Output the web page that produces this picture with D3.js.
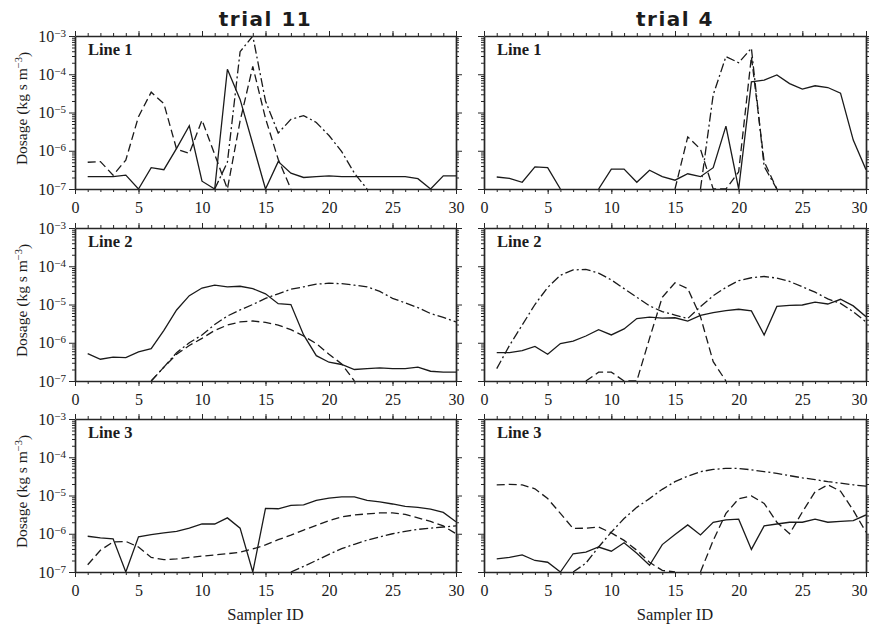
<!DOCTYPE html>
<html>
<head>
<meta charset="utf-8">
<script src="https://cdn.jsdelivr.net/npm/d3@7"></script>
<style>
    body { margin: 0; background: #fff; }
    svg text { font-family: "Liberation Serif", "Times New Roman", serif; fill: #1c1c1c; }
    .axis path, .axis line { stroke: #262626; }
    .axis .domain { stroke-width: 1.7px; }
    .trial-title { font-family: "DejaVu Sans", sans-serif; font-weight: bold; letter-spacing: 1.5px; }
</style>
</head>
<body>
<div id="chart"></div>
<script>
// Sampler ids along the x axis
const samplers = d3.range(1, 31);
const xTicks = [0, 5, 10, 15, 20, 25, 30];
const yDecades = [1e-7, 1e-6, 1e-5, 1e-4, 1e-3];
const trialTitles = ["trial 11", "trial 4"];
const lineNames = ["Line 1", "Line 2", "Line 3"];
const N = null;

// trial 11, line 1
const t11L1Solid = [2.1e-7, 2.1e-7, 2.1e-7, 2.3e-7, 1e-7, 3.6e-7, 3.2e-7, 1.15e-6, 4.5e-6, 1.6e-7, 1e-7, 1.35e-4, 2.2e-5, 1.5e-6, 1e-7, 5.2e-7, 2.6e-7, 2e-7, 2.1e-7, 2.2e-7, 2.1e-7, 2.1e-7, 2.1e-7, 2.1e-7, 2.1e-7, 2.1e-7, 1.86e-7, 1e-7, 2.2e-7, 2.2e-7];
const t11L1Dashed = [5e-7, 5.2e-7, 2.3e-7, 5.7e-7, 7.8e-6, 3.4e-5, 1.7e-5, 1.1e-6, 8.5e-7, 6.3e-6, 8e-7, 1e-7, 6e-6, 1.6e-4, 7e-6, 6e-7, 1e-7, N, N, N, N, N, N, N, N, N, N, N, N, N];
const t11L1DashDot = [N, N, N, N, N, N, N, N, N, N, 1e-7, 5e-7, 3.9e-4, 1e-3, 2e-5, 2.9e-6, 6.6e-6, 8.3e-6, 5.5e-6, 2.5e-6, 9.5e-7, 2.6e-7, 1e-7, N, N, N, N, N, N, N];

// trial 4, line 1
const t4L1Solid = [2.06e-7, 1.9e-7, 1.5e-7, 3.8e-7, 3.6e-7, 1e-7, N, N, 1e-7, 3.3e-7, 3.3e-7, 1.5e-7, 3.1e-7, 2.1e-7, 1.7e-7, 2.5e-7, 2.1e-7, 3.6e-7, 4.4e-6, 1e-7, 6.3e-5, 7e-5, 9.6e-5, 5.7e-5, 4.1e-5, 5e-5, 4.5e-5, 3.2e-5, 1.9e-6, 3.2e-7];
const t4L1Dashed = [N, N, N, N, N, N, N, N, N, N, N, N, N, N, 1e-7, 2.3e-6, 1.1e-6, 1e-7, 1e-7, 2.8e-7, 2.9e-4, 5.2e-7, 1e-7, N, N, N, N, N, N, N];
const t4L1DashDot = [N, N, N, N, N, N, N, N, N, N, N, N, N, N, N, N, 1e-7, 2.9e-5, 2.9e-4, 2e-4, 4.8e-4, 3.9e-7, 1e-7, N, N, N, N, N, N, N];

// trial 11, line 2
const t11L2Solid = [5.2e-7, 3.7e-7, 4.2e-7, 4.1e-7, 5.8e-7, 7e-7, 2.1e-6, 7.2e-6, 1.7e-5, 2.7e-5, 3.2e-5, 2.9e-5, 3e-5, 2.6e-5, 1.9e-5, 1.05e-5, 1e-5, 1.6e-6, 4.6e-7, 3.1e-7, 2.7e-7, 2e-7, 2.1e-7, 2.2e-7, 2.1e-7, 2.1e-7, 2.3e-7, 1.8e-7, 1.7e-7, 1.7e-7];
const t11L2Dashed = [N, N, N, N, N, 1e-7, 2.3e-7, 5e-7, 8.5e-7, 1.3e-6, 2.1e-6, 2.9e-6, 3.5e-6, 3.7e-6, 3.4e-6, 2.9e-6, 2.2e-6, 1.5e-6, 9.5e-7, 5e-7, 2.8e-7, 1e-7, N, N, N, N, N, N, N, N];
const t11L2DashDot = [N, N, N, N, N, 1e-7, 2.3e-7, 5.5e-7, 1e-6, 1.6e-6, 3e-6, 5e-6, 7.2e-6, 1e-5, 1.45e-5, 1.9e-5, 2.5e-5, 2.9e-5, 3.4e-5, 3.6e-5, 3.5e-5, 3.2e-5, 2.9e-5, 2.2e-5, 1.45e-5, 1.1e-5, 8.3e-6, 5.8e-6, 4.6e-6, 3.5e-6];

// trial 4, line 2
const t4L2Solid = [5.5e-7, 5.5e-7, 6.2e-7, 8e-7, 5e-7, 9.5e-7, 1.1e-6, 1.5e-6, 2.2e-6, 1.6e-6, 2.3e-6, 4.3e-6, 4.7e-6, 4.4e-6, 4.5e-6, 3.7e-6, 5.2e-6, 6.1e-6, 6.9e-6, 7.5e-6, 6.8e-6, 1.6e-6, 8.9e-6, 9.5e-6, 9.7e-6, 1.15e-5, 1.03e-5, 1.37e-5, 9.2e-6, 4.8e-6];
const t4L2Dashed = [N, N, N, N, N, N, N, 1e-7, 1.7e-7, 1.7e-7, 1e-7, 1e-7, 1.3e-6, 1.55e-5, 3.7e-5, 2.6e-5, 4.8e-6, 3.2e-7, 1e-7, N, N, N, N, N, N, N, N, N, N, N];
const t4L2DashDot = [2.1e-7, 8.5e-7, 2.9e-6, 1e-5, 2.8e-5, 5.8e-5, 8e-5, 8.3e-5, 6.6e-5, 4.4e-5, 2.6e-5, 1.55e-5, 9.2e-6, 6.5e-6, 5.3e-6, 4.3e-6, 8.8e-6, 1.7e-5, 2.8e-5, 4.2e-5, 5e-5, 5.4e-5, 4.9e-5, 4e-5, 2.9e-5, 2.1e-5, 1.4e-5, 1.07e-5, 6.5e-6, 3.5e-6];

// trial 11, line 3
const t11L3Solid = [8.6e-7, 7.8e-7, 7.4e-7, 1e-7, 8.3e-7, 9.5e-7, 1.05e-6, 1.15e-6, 1.4e-6, 1.8e-6, 1.8e-6, 2.6e-6, 1.4e-6, 1e-7, 4.6e-6, 4.5e-6, 5.5e-6, 5.7e-6, 7.5e-6, 8.5e-6, 9.2e-6, 9.2e-6, 7.5e-6, 6.8e-6, 6e-6, 5.2e-6, 4.9e-6, 4.4e-6, 3.6e-6, 2.05e-6];
const t11L3Dashed = [1.55e-7, 3.7e-7, 6.1e-7, 6.3e-7, 4.5e-7, 2.4e-7, 2.1e-7, 2.2e-7, 2.4e-7, 2.6e-7, 2.8e-7, 3e-7, 3.3e-7, 4e-7, 5.1e-7, 7e-7, 9.2e-7, 1.25e-6, 1.65e-6, 2.2e-6, 2.75e-6, 3.1e-6, 3.3e-6, 3.5e-6, 3.5e-6, 3.2e-6, 2.6e-6, 2.1e-6, 1.6e-6, 1e-6];
const t11L3DashDot = [N, N, N, N, N, N, N, N, N, N, N, N, N, N, N, N, 1e-7, 1.4e-7, 2e-7, 2.9e-7, 4.1e-7, 5.3e-7, 6.8e-7, 8.3e-7, 1e-6, 1.15e-6, 1.3e-6, 1.4e-6, 1.5e-6, 1.6e-6];

// trial 4, line 3
const t4L3Solid = [2.2e-7, 2.4e-7, 2.8e-7, 2e-7, 1.8e-7, 1e-7, 3e-7, 3.3e-7, 4.5e-7, 3.5e-7, 5.8e-7, 3.1e-7, 1.5e-7, 5.2e-7, 9.5e-7, 1.7e-6, 9.3e-7, 2e-6, 2.3e-6, 2.4e-6, 3.9e-7, 1.6e-6, 1.8e-6, 2e-6, 2e-6, 2.4e-6, 2e-6, 2.1e-6, 2.2e-6, 3.1e-6];
const t4L3Dashed = [1.9e-5, 1.95e-5, 1.9e-5, 1.5e-5, 8.3e-6, 3.4e-6, 1.37e-6, 1.4e-6, 1.5e-6, 1.05e-6, 6.7e-7, 3.7e-7, 1.8e-7, 1.1e-7, 1e-7, N, 1e-7, 6.7e-7, 3.4e-6, 8.2e-6, 9.8e-6, 6.2e-6, 2e-6, 1e-6, 3.7e-6, 1.25e-5, 1.9e-5, 1.3e-5, 4.1e-6, 1.1e-6];
const t4L3DashDot = [N, N, N, N, N, N, 1e-7, 1.7e-7, 4.5e-7, 1.1e-6, 2.5e-6, 4.9e-6, 8.3e-6, 1.45e-5, 2.3e-5, 3.2e-5, 4.2e-5, 4.8e-5, 5.1e-5, 5.1e-5, 4.7e-5, 4.2e-5, 3.8e-5, 3.3e-5, 2.9e-5, 2.6e-5, 2.3e-5, 2.1e-5, 1.9e-5, 1.75e-5];

// Layout of the six panels
const colLeft = [75, 484];
const colWidth = [381, 382];
const rowTop = [36, 228, 419];
const panelHeight = 153;
const serif = "'Liberation Serif', 'Times New Roman', serif";

// dash style for each series
const seriesStyles = [
    { key: "solid", dash: null },
    { key: "dashed", dash: "8,4" },
    { key: "dashdot", dash: "9,3,2,3" }
];

const panelSpecs = [
    { row: 0, col: 0, solid: t11L1Solid, dashed: t11L1Dashed, dashdot: t11L1DashDot },
    { row: 0, col: 1, solid: t4L1Solid, dashed: t4L1Dashed, dashdot: t4L1DashDot },
    { row: 1, col: 0, solid: t11L2Solid, dashed: t11L2Dashed, dashdot: t11L2DashDot },
    { row: 1, col: 1, solid: t4L2Solid, dashed: t4L2Dashed, dashdot: t4L2DashDot },
    { row: 2, col: 0, solid: t11L3Solid, dashed: t11L3Dashed, dashdot: t11L3DashDot },
    { row: 2, col: 1, solid: t4L3Solid, dashed: t4L3Dashed, dashdot: t4L3DashDot }
];

class DosagePanel {

    constructor(svg, spec) {
        this.svg = svg;
        this.spec = spec;
        this.left = colLeft[spec.col];
        this.top = rowTop[spec.row];
        this.width = colWidth[spec.col];
        this.height = panelHeight;
        this.initVis();
    }

    initVis() {
        let vis = this;

        vis.g = vis.svg.append("g")
            .attr("transform", "translate(" + vis.left + "," + vis.top + ")");

        vis.x = d3.scaleLinear().domain([0, 30]).range([0, vis.width]);
        vis.y = d3.scaleLog().domain([1e-7, 1e-3]).range([vis.height, 0]);

        // clip lines to the frame
        vis.clipId = "clip-" + vis.spec.row + "-" + vis.spec.col;
        vis.g.append("clipPath").attr("id", vis.clipId)
            .append("rect")
            .attr("width", vis.width)
            .attr("height", vis.height);

        vis.drawLines();
        vis.drawAxes();

        // panel label
        vis.g.append("text")
            .attr("x", 13)
            .attr("y", 19)
            .style("font-family", serif)
            .style("font-size", "16.5px")
            .style("font-weight", "bold")
            .text(lineNames[vis.spec.row]);
    }

    drawLines() {
        let vis = this;

        let line = d3.line()
            .defined(d => d.v !== null)
            .x(d => vis.x(d.s))
            .y(d => vis.y(d.v));

        let layer = vis.g.append("g").attr("clip-path", "url(#" + vis.clipId + ")");

        seriesStyles.forEach(st => {
            let pts = samplers.map((s, i) => ({ s: s, v: vis.spec[st.key][i] }));
            layer.append("path")
                .datum(pts)
                .attr("fill", "none")
                .attr("stroke", "#1a1a1a")
                .attr("stroke-width", 1.3)
                .attr("stroke-dasharray", st.dash)
                .attr("d", line);
        });
    }

    drawAxes() {
        let vis = this;
        let minorY = yDecades.slice(0, 4).flatMap(d => d3.range(2, 10).map(k => k * d));

        // bottom: minor then major with labels
        vis.g.append("g").attr("class", "axis")
            .attr("transform", "translate(0," + vis.height + ")")
            .call(d3.axisBottom(vis.x).tickValues(samplers).tickSize(3).tickSizeOuter(0).tickFormat(""));
        let bx = vis.g.append("g").attr("class", "axis")
            .attr("transform", "translate(0," + vis.height + ")")
            .call(d3.axisBottom(vis.x).tickValues(xTicks).tickSize(5).tickSizeOuter(0).tickPadding(8));
        bx.attr("font-family", null).attr("font-size", null);
        bx.selectAll("text")
            .style("font-size", "16px")
            .style("font-family", serif)
            .attr("fill", "#1c1c1c");
        bx.select(".domain").remove();

        // the last label of the right column sits at the page edge; keep it inside
        if (vis.spec.col === 1) {
            bx.selectAll("text").filter(d => d === 30).attr("text-anchor", "end").attr("x", 1);
        }

        // top
        vis.g.append("g").attr("class", "axis")
            .call(d3.axisTop(vis.x).tickValues(samplers).tickSize(3).tickSizeOuter(0).tickFormat(""));
        let tx = vis.g.append("g").attr("class", "axis")
            .call(d3.axisTop(vis.x).tickValues(xTicks).tickSize(5).tickSizeOuter(0).tickFormat(""));
        tx.select(".domain").remove();

        // left
        vis.g.append("g").attr("class", "axis")
            .call(d3.axisLeft(vis.y).tickValues(minorY).tickSize(3).tickSizeOuter(0).tickFormat(""));
        let ly = vis.g.append("g").attr("class", "axis")
            .call(d3.axisLeft(vis.y).tickValues(yDecades).tickSize(6).tickSizeOuter(0).tickFormat(""));
        ly.select(".domain").remove();

        // right
        vis.g.append("g").attr("class", "axis")
            .attr("transform", "translate(" + vis.width + ",0)")
            .call(d3.axisRight(vis.y).tickValues(minorY).tickSize(3).tickSizeOuter(0).tickFormat(""));
        let ry = vis.g.append("g").attr("class", "axis")
            .attr("transform", "translate(" + vis.width + ",0)")
            .call(d3.axisRight(vis.y).tickValues(yDecades).tickSize(6).tickSizeOuter(0).tickFormat(""));
        ry.select(".domain").remove();

        // power-of-ten labels only on the left column
        if (vis.spec.col === 0) {
            vis.g.selectAll(".ytick-label")
                .data(yDecades)
                .join("text")
                .attr("class", "ytick-label")
                .attr("x", -9)
                .attr("y", d => vis.y(d))
                .attr("dy", "0.35em")
                .attr("text-anchor", "end")
                .style("font-family", serif)
                .style("font-size", "16px")
                .each(function (d) {
                    let t = d3.select(this);
                    t.append("tspan").text("10");
                    t.append("tspan")
                        .attr("dy", "-0.45em")
                        .style("font-size", "11px")
                        .text("\u2212" + Math.round(-Math.log10(d)));
                });

            let yl = vis.svg.append("text")
                .attr("transform", "translate(27," + (vis.top + vis.height / 2 - 4) + ") rotate(-90)")
                .attr("text-anchor", "middle")
                .style("font-family", serif)
                .style("font-size", "15.5px");
            yl.append("tspan").text("Dosage (kg s m");
            yl.append("tspan").attr("dy", "-0.45em").style("font-size", "10.5px").text("\u22123");
            yl.append("tspan").attr("dy", "0.45em").text(")");
        }
    }
}

const svg = d3.select("#chart").append("svg")
    .attr("width", 869)
    .attr("height", 627);

panelSpecs.forEach(spec => new DosagePanel(svg, spec));

// column titles
trialTitles.forEach((t, c) => {
    svg.append("text")
        .attr("class", "trial-title")
        .attr("x", colLeft[c] + colWidth[c] / 2)
        .attr("y", 26)
        .attr("text-anchor", "middle")
        .style("font-size", "20px")
        .text(t);
});

// x label under each bottom panel
[0, 1].forEach(c => {
    svg.append("text")
        .attr("x", colLeft[c] + colWidth[c] / 2)
        .attr("y", 620)
        .attr("text-anchor", "middle")
        .style("font-family", serif)
        .style("font-size", "16.5px")
        .text("Sampler ID");
});
</script>
</body>
</html>
